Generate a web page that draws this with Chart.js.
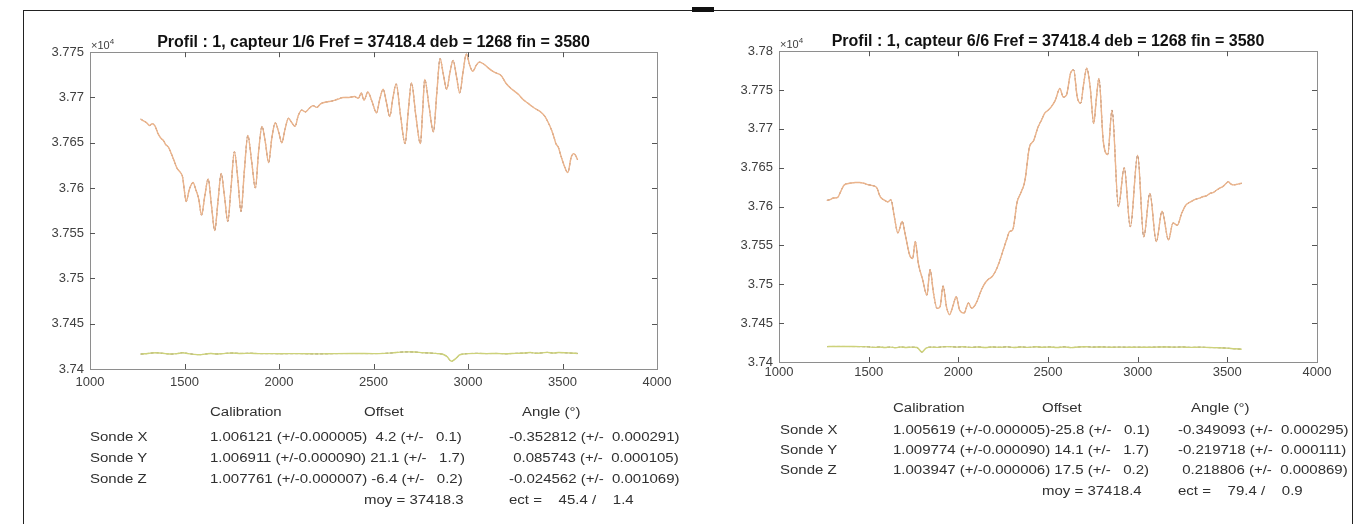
<!DOCTYPE html>
<html>
<head>
<meta charset="utf-8">
<script src="https://cdn.jsdelivr.net/npm/chart.js@4/dist/chart.umd.min.js"></script>
<style>
  html, body { margin: 0; padding: 0; background: #fff; }
  body { width: 1370px; height: 524px; position: relative; overflow: hidden; font-family: "Liberation Sans", Arial, sans-serif; }
  .frame { position: absolute; left: 23px; top: 10px; width: 1330px; height: 600px; border: 1.5px solid #222; box-sizing: border-box; }
  .mark { position: absolute; left: 692px; top: 7px; width: 22px; height: 5px; background: #111; }
  .wrap { position: absolute; top: 0; height: 400px; }
  .tbl { position: absolute; top: 0; left: 0; width: 1352px; height: 524px; overflow: hidden; pointer-events: none; }
  .t { position: absolute; font-size: 12.5px; color: #303030; white-space: pre; transform: scaleX(1.2); transform-origin: left center; line-height: 14px; }
</style>
</head>
<body>
<div class="frame"></div>
<div class="mark"></div>
<div class="wrap" style="left:0;width:685px;"><canvas id="c1" width="685" height="400"></canvas></div>
<div class="wrap" style="left:690px;width:680px;"><canvas id="c2" width="680" height="400"></canvas></div>
<div class="tbl" id="tbl"></div>
<script>
// ---------- data ----------
const xTicks = [1000, 1500, 2000, 2500, 3000, 3500, 4000];
const titleLeft = 'Profil : 1, capteur 1/6 Fref = 37418.4 deb = 1268 fin = 3580';
const titleRight = 'Profil : 1, capteur 6/6 Fref = 37418.4 deb = 1268 fin = 3580';

// capteur 1/6 : field (x, F)
const leftMain = [[1268,37676],[1285,37674],[1300,37672],[1315,37669],[1330,37671],[1345,37668],[1360,37660],[1375,37655],[1390,37652],[1400,37648],[1415,37645],[1430,37638],[1445,37630],[1460,37622],[1475,37618],[1490,37612],[1500,37596],[1509,37585],[1525,37598],[1545,37606],[1560,37598],[1575,37588],[1590,37570],[1608,37592],[1625,37610],[1643,37580],[1660,37553],[1677,37585],[1694,37616],[1712,37590],[1729,37563],[1746,37600],[1764,37640],[1782,37610],[1799,37574],[1817,37620],[1835,37658],[1855,37630],[1875,37600],[1892,37640],[1910,37668],[1928,37650],[1945,37628],[1962,37655],[1980,37672],[1998,37662],[2015,37650],[2032,37665],[2050,37677],[2068,37672],[2085,37668],[2102,37680],[2120,37686],[2140,37684],[2160,37688],[2180,37691],[2200,37689],[2220,37693],[2250,37695],[2280,37696],[2310,37698],[2340,37700],[2370,37700],[2400,37701],[2420,37699],[2435,37705],[2450,37697],[2470,37706],[2493,37695],[2516,37683],[2533,37698],[2551,37709],[2568,37695],[2586,37679],[2603,37700],[2620,37715],[2643,37680],[2667,37649],[2684,37685],[2701,37716],[2724,37680],[2748,37649],[2760,37685],[2771,37720],[2794,37690],[2817,37662],[2835,37705],[2852,37743],[2870,37725],[2887,37709],[2905,37728],[2921,37741],[2940,37722],[2956,37705],[2975,37730],[2991,37748],[3010,37735],[3025,37729],[3045,37736],[3060,37739],[3083,37737],[3105,37733],[3130,37729],[3150,37727],[3176,37724],[3200,37716],[3222,37711],[3245,37707],[3269,37703],[3290,37698],[3315,37694],[3340,37690],[3361,37687],[3385,37684],[3407,37679],[3425,37672],[3442,37664],[3455,37656],[3465,37649],[3478,37645],[3488,37638],[3500,37630],[3512,37623],[3528,37617],[3546,37634],[3560,37638],[3569,37636],[3580,37631]];
const leftLow = [[1268,37416.5],[1290,37416.8],[1320,37417.5],[1350,37418],[1375,37417.5],[1400,37417],[1430,37416.5],[1460,37417],[1490,37418],[1520,37417],[1550,37416.2],[1580,37415.8],[1610,37416.5],[1640,37417.2],[1670,37416.6],[1700,37417],[1750,37417.6],[1800,37417.2],[1850,37417.4],[1900,37417],[1950,37417],[2000,37416.9],[2100,37417],[2200,37416.7],[2300,37417],[2400,37417.1],[2500,37417],[2560,37417.3],[2600,37417.8],[2640,37418.6],[2680,37418.9],[2720,37418.7],[2760,37418],[2800,37417.6],[2840,37417],[2870,37416],[2890,37413.5],[2912,37408.5],[2935,37411.5],[2955,37415.5],[2975,37416.5],[3000,37417],[3050,37417.3],[3100,37417],[3150,37417.2],[3200,37416.8],[3250,37417.3],[3300,37417.6],[3330,37418.2],[3360,37417.4],[3390,37417.8],[3420,37418.4],[3450,37417.6],[3480,37418.2],[3510,37418],[3540,37417.6],[3580,37417.2]];

// capteur 6/6
const rightMain = [[1267,37608],[1285,37609],[1303,37611],[1328,37612],[1345,37620],[1364,37628],[1395,37630],[1425,37631],[1450,37631],[1473,37630],[1500,37628],[1522,37627],[1546,37624],[1560,37615],[1570,37611],[1590,37608],[1607,37606],[1624,37609],[1643,37587],[1663,37566],[1687,37581],[1704,37564],[1728,37538],[1745,37533],[1760,37555],[1777,37527],[1801,37506],[1825,37486],[1842,37519],[1862,37488],[1881,37469],[1898,37471],[1915,37498],[1934,37471],[1951,37461],[1971,37473],[1988,37484],[2007,37467],[2032,37463],[2056,37476],[2075,37469],[2100,37476],[2129,37493],[2150,37502],[2165,37506],[2189,37510],[2210,37518],[2226,37527],[2250,37544],[2270,37558],[2286,37568],[2303,37570],[2328,37606],[2347,37617],[2371,37633],[2396,37676],[2420,37685],[2444,37702],[2465,37712],[2481,37720],[2500,37724],[2517,37728],[2541,37737],[2566,37752],[2585,37741],[2602,37743],[2626,37772],[2643,37776],[2663,37741],[2682,37733],[2700,37760],[2716,37778],[2735,37754],[2755,37707],[2770,37740],[2784,37765],[2808,37685],[2833,37667],[2857,37724],[2893,37600],[2925,37650],[2959,37574],[3000,37666],[3034,37561],[3068,37617],[3104,37555],[3136,37594],[3172,37557],[3197,37579],[3221,37576],[3245,37591],[3269,37602],[3295,37606],[3318,37609],[3345,37611],[3367,37613],[3385,37614],[3403,37617],[3420,37618],[3439,37621],[3460,37624],[3476,37626],[3490,37629],[3505,37632],[3520,37629],[3536,37628],[3560,37629],[3580,37630]];
const rightLow = [[1268,37419.8],[1300,37420],[1350,37420],[1400,37419.9],[1450,37419.8],[1500,37419.5],[1530,37418.8],[1560,37419.3],[1590,37418.6],[1620,37419.2],[1650,37418.4],[1680,37419.3],[1710,37418.7],[1740,37419.1],[1770,37418.6],[1797,37412.8],[1820,37418],[1850,37419.2],[1880,37418.8],[1910,37419.5],[1950,37419.8],[1990,37419.2],[2030,37419.6],[2070,37418.8],[2110,37419.4],[2150,37418.6],[2190,37419.3],[2230,37418.9],[2270,37419.5],[2310,37418.7],[2350,37419.4],[2390,37418.8],[2430,37419.6],[2470,37418.9],[2510,37419.4],[2550,37418.6],[2590,37419.5],[2630,37418.5],[2670,37419.3],[2710,37419.7],[2750,37419.2],[2800,37419.4],[2850,37419],[2900,37419.2],[2950,37419],[3000,37419.1],[3050,37418.9],[3100,37419.2],[3150,37419.4],[3200,37419.1],[3250,37419.3],[3300,37418.8],[3350,37419.1],[3400,37418.6],[3450,37418.4],[3500,37417.8],[3540,37417],[3580,37416.5]];

// table texts
const probes = ['Sonde X', 'Sonde Y', 'Sonde Z'];
const headers = ['Calibration', 'Offset', 'Angle (°)'];
const leftCalOff = ['1.006121 (+/-0.000005)  4.2 (+/-   0.1)', '1.006911 (+/-0.000090) 21.1 (+/-   1.7)', '1.007761 (+/-0.000007) -6.4 (+/-   0.2)'];
const leftAngle = ['-0.352812 (+/-  0.000291)', ' 0.085743 (+/-  0.000105)', '-0.024562 (+/-  0.001069)'];
const leftMoy = 'moy = 37418.3';
const leftEct = 'ect =    45.4 /    1.4';
const rightCalOff = ['1.005619 (+/-0.000005)-25.8 (+/-   0.1)', '1.009774 (+/-0.000090) 14.1 (+/-   1.7)', '1.003947 (+/-0.000006) 17.5 (+/-   0.2)'];
const rightAngle = ['-0.349093 (+/-  0.000295)', '-0.219718 (+/-  0.000111)', ' 0.218806 (+/-  0.000869)'];
const rightMoy = 'moy = 37418.4';
const rightEct = 'ect =    79.4 /    0.9';

// ---------- charts ----------
const FONT = '"Liberation Sans", Arial, sans-serif';
const toPts = arr => arr.map(p => ({x: p[0], y: p[1]}));

const boxPlugin = {
  id: 'matlabBox',
  afterDatasetsDraw(chart) {
    const {ctx, chartArea: a, scales} = chart;
    ctx.save();
    ctx.strokeStyle = '#8e8e8e';
    ctx.lineWidth = 1;
    ctx.strokeRect(Math.round(a.left) + 0.5, Math.round(a.top) + 0.5, Math.round(a.right - a.left), Math.round(a.bottom - a.top));
    ctx.strokeStyle = '#555';
    ctx.beginPath();
    scales.x.ticks.forEach(t => {
      const px = Math.round(scales.x.getPixelForValue(t.value)) + 0.5;
      if (px < a.left + 2 || px > a.right - 2) return;
      ctx.moveTo(px, a.bottom); ctx.lineTo(px, a.bottom - 5);
      ctx.moveTo(px, a.top); ctx.lineTo(px, a.top + 5);
    });
    scales.y.ticks.forEach(t => {
      const py = Math.round(scales.y.getPixelForValue(t.value)) + 0.5;
      if (py < a.top + 2 || py > a.bottom - 2) return;
      ctx.moveTo(a.left, py); ctx.lineTo(a.left + 5, py);
      ctx.moveTo(a.right, py); ctx.lineTo(a.right - 5, py);
    });
    ctx.stroke();
    // exponent label
    ctx.fillStyle = '#404040';
    ctx.textBaseline = 'alphabetic';
    ctx.font = '11px ' + FONT;
    ctx.fillText('\u00d710', a.left + 1, a.top - 3);
    const w = ctx.measureText('\u00d710').width;
    ctx.font = '8px ' + FONT;
    ctx.fillText('4', a.left + 1 + w, a.top - 8);
    ctx.restore();
  }
};

function makeChart(id, title, main, low, yMax, padRight, yWidth, titleTop, xHeight, xPad) {
  return new Chart(document.getElementById(id), {
    type: 'line',
    data: {
      datasets: [
        {data: toPts(main), borderColor: '#ebb48c', borderWidth: 1.4, pointRadius: 0, cubicInterpolationMode: 'monotone'},
        {data: toPts(main), borderColor: '#7a4e38', borderWidth: 1, borderDash: [3, 2], pointRadius: 0, cubicInterpolationMode: 'monotone'},
        {data: toPts(low), borderColor: '#cdd27a', borderWidth: 1.4, pointRadius: 0, cubicInterpolationMode: 'monotone'},
        {data: toPts(low), borderColor: '#6f5a48', borderWidth: 1, borderDash: [3, 2], pointRadius: 0, cubicInterpolationMode: 'monotone'}
      ]
    },
    options: {
      responsive: false,
      animation: false,
      devicePixelRatio: 1,
      layout: {padding: {left: 0, right: padRight, top: 0, bottom: 0}},
      plugins: {
        legend: {display: false},
        tooltip: {enabled: false},
        title: {display: true, fullSize: false, text: title, color: '#111', font: {family: FONT, size: 16, weight: 'bold', lineHeight: 1.2}, padding: {top: titleTop, bottom: 0}}
      },
      scales: {
        x: {
          type: 'linear', min: xTicks[0], max: xTicks[xTicks.length - 1],
          afterBuildTicks: s => { s.ticks = xTicks.map(v => ({value: v})); },
          grid: {display: false, drawTicks: false}, border: {display: false},
          ticks: {color: '#404040', font: {family: FONT, size: 13}, padding: xPad, maxRotation: 0, autoSkip: false, callback: v => String(v)},
          afterFit: s => { s.height = xHeight; }
        },
        y: {
          type: 'linear', min: 37400, max: yMax,
          grid: {display: false, drawTicks: false}, border: {display: false},
          ticks: {stepSize: 50, color: '#404040', font: {family: FONT, size: 13}, padding: 6,
                  callback: v => String(parseFloat((v / 1e4).toFixed(4)))},
          afterFit: s => { s.width = yWidth; }
        }
      }
    },
    plugins: [boxPlugin]
  });
}

makeChart('c1', titleLeft, leftMain, leftLow, 37750, 28, 90, 33, 31, 6);
makeChart('c2', titleRight, rightMain, rightLow, 37800, 53, 89, 32, 38, 3);

// ---------- tables ----------
const tbl = document.getElementById('tbl');
function put(text, x, yc) {
  const d = document.createElement('div');
  d.className = 't';
  d.textContent = text;
  d.style.left = x + 'px';
  d.style.top = (yc - 7) + 'px';
  tbl.appendChild(d);
}
function table(o) {
  put(headers[0], o.cal, o.rows[0]);
  put(headers[1], o.off, o.rows[0]);
  put(headers[2], o.ang + 13, o.rows[0]);
  probes.forEach((p, i) => {
    put(p, o.lab, o.rows[i + 1]);
    put(o.calOff[i], o.cal, o.rows[i + 1]);
    put(o.angle[i], o.ang, o.rows[i + 1]);
  });
  put(o.moy, o.off, o.rows[4]);
  put(o.ect, o.ang, o.rows[4]);
}
table({lab: 90, cal: 210, off: 364, ang: 509, rows: [412, 437, 458, 479, 500], calOff: leftCalOff, angle: leftAngle, moy: leftMoy, ect: leftEct});
table({lab: 780, cal: 893, off: 1042, ang: 1178, rows: [408, 430, 450, 470, 491], calOff: rightCalOff, angle: rightAngle, moy: rightMoy, ect: rightEct});
</script>
</body>
</html>
